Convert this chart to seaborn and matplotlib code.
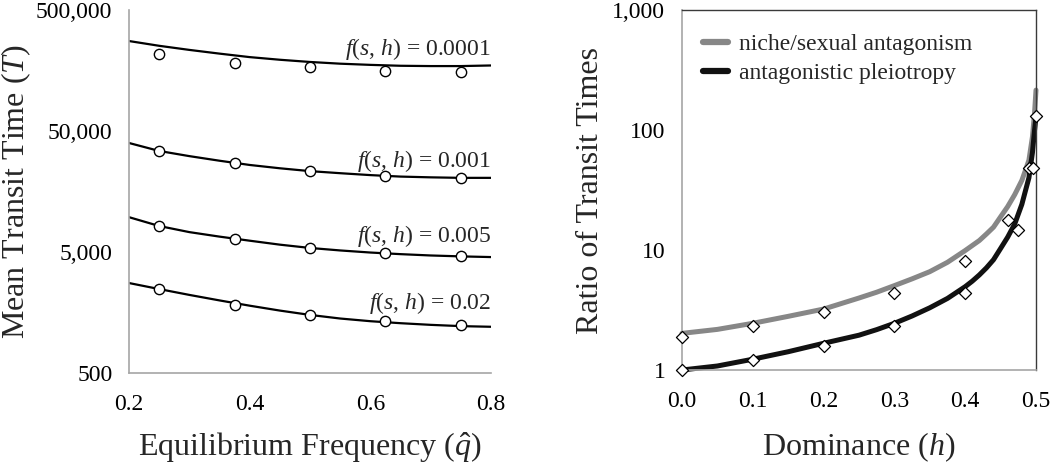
import numpy as np
import pandas as pd
import matplotlib
matplotlib.use("Agg")
import matplotlib.pyplot as plt
import matplotlib.ticker as mticker
import seaborn as sns

# ---------------- data ----------------
# Left panel: mean transit time vs equilibrium frequency
q_curve = [0.2, 0.25, 0.3, 0.35, 0.4, 0.45, 0.5, 0.55, 0.6, 0.65, 0.7, 0.75, 0.8]
T_curve_00001 = [277000, 253000, 234000, 218000, 204000, 194000, 186000, 180000, 176000, 173000, 172000, 172000, 174000]
T_curve_0001 = [39800, 34200, 31000, 28400, 26200, 24600, 23300, 22400, 21600, 21000, 20700, 20500, 20500]
T_curve_0005 = [9700, 8200, 7300, 6700, 6200, 5750, 5400, 5150, 4950, 4800, 4680, 4600, 4540]
T_curve_002 = [2770, 2470, 2210, 1990, 1800, 1640, 1510, 1410, 1340, 1290, 1250, 1220, 1205]

q_sim = [0.25, 0.375, 0.5, 0.625, 0.75]
T_sim_00001 = [216000, 182000, 169000, 157000, 154000]
T_sim_0001 = [34200, 27200, 23300, 21200, 20500]
T_sim_0005 = [8200, 6400, 5400, 4900, 4600]
T_sim_002 = [2470, 1820, 1510, 1350, 1250]

curve_labels = ["0.0001", "0.001", "0.005", "0.02"]

# Right panel: ratio of transit times vs dominance
h_curve = [0, 0.05, 0.1, 0.15, 0.2, 0.25, 0.275, 0.3, 0.325, 0.35, 0.375, 0.4, 0.41, 0.42,
           0.43, 0.44, 0.45, 0.46, 0.47, 0.48, 0.485, 0.49, 0.495, 0.498, 0.5]
ratio_niche = [2.02, 2.18, 2.45, 2.8, 3.22, 3.98, 4.45, 5.05, 5.75, 6.6, 7.9, 9.9, 10.9, 12.0,
               13.6, 15.5, 18.9, 23.0, 29.0, 38.0, 46.0, 56.0, 88.0, 140.0, 215.0]
ratio_ap = [1.0, 1.08, 1.23, 1.42, 1.67, 1.95, 2.17, 2.45, 2.82, 3.3, 3.95, 4.95, 5.5, 6.2,
            7.1, 8.3, 10.3, 12.8, 16.5, 24.0, 31.0, 40.0, 65.0, 100.0, 128.0]

h_sim_niche = [0, 0.1, 0.2, 0.3, 0.4, 0.46, 0.49]
r_sim_niche = [1.9, 2.33, 3.04, 4.4, 8.15, 17.8, 48.5]
h_sim_ap = [0, 0.1, 0.2, 0.3, 0.4, 0.475, 0.496, 0.5]
r_sim_ap = [1.0, 1.21, 1.58, 2.33, 4.36, 14.7, 48.5, 131]

series_names = ["niche/sexual antagonism", "antagonistic pleiotropy"]

# ---------------- style ----------------
sns.set_style("white")
plt.rcParams["font.family"] = ["Liberation Serif", "DejaVu Serif"]
plt.rcParams["mathtext.fontset"] = "custom"
plt.rcParams["mathtext.rm"] = "Liberation Serif"
plt.rcParams["mathtext.it"] = "Liberation Serif:italic"
plt.rcParams["mathtext.bf"] = "Liberation Serif:bold"

fig = plt.figure(figsize=(10.5, 4.66), dpi=100)
axL = fig.add_axes([129 / 1050, 1 - 373 / 466, (491 - 129) / 1050, (373 - 10) / 466])
axR = fig.add_axes([682 / 1050, 1 - 370 / 466, (1036 - 682) / 1050, (370 - 10) / 466])

TICK_FS = 17
LABEL_FS = 23
spine_gray = "#a6a6a6"

# ---- left panel ----
curves = [T_curve_00001, T_curve_0001, T_curve_0005, T_curve_002]
sims = [T_sim_00001, T_sim_0001, T_sim_0005, T_sim_002]
for cv, sv in zip(curves, sims):
    sns.lineplot(x=q_curve, y=cv, ax=axL, color="black", linewidth=1.6, zorder=2)
    sns.scatterplot(x=q_sim, y=sv, ax=axL, marker="o", s=55, facecolor="white",
                    edgecolor="black", linewidth=1.0, zorder=3)

axL.set_yscale("log")
axL.set_xlim(0.2, 0.8)
axL.set_ylim(500, 500000)
axL.set_yticks([500, 5000, 50000, 500000])
axL.yaxis.set_major_formatter(mticker.FuncFormatter(lambda v, p: f"{int(round(v)):,}"))
axL.yaxis.set_minor_locator(mticker.NullLocator())
axL.set_xticks([0.2, 0.4, 0.6, 0.8])
axL.xaxis.set_major_formatter(mticker.FormatStrFormatter("%.1f"))
for s in ["top", "right"]:
    axL.spines[s].set_visible(False)
for s in ["left", "bottom"]:
    axL.spines[s].set_color(spine_gray)
    axL.spines[s].set_linewidth(1.2)
axL.tick_params(axis="both", which="major", direction="out", length=5, width=1.0,
                color=spine_gray, labelsize=TICK_FS, labelcolor="black")
axL.tick_params(axis="y", pad=7)
axL.tick_params(axis="x", pad=10)
axL.set_xlabel(r"Equilibrium Frequency ($\hat{q}$)", fontsize=LABEL_FS)
axL.set_ylabel(r"Mean Transit Time ($T$)", fontsize=LABEL_FS)
axL.xaxis.set_label_coords(0.5, -0.158)
axL.yaxis.set_label_coords(-0.265, 0.5)

label_y = [0.876, 0.568, 0.362, 0.176]
for lab, ly in zip(curve_labels, label_y):
    axL.text(1.0, ly, rf"$f$($s$, $h$) = {lab}", transform=axL.transAxes,
             ha="right", va="baseline", fontsize=TICK_FS)

# ---- right panel ----
df_curves = pd.DataFrame({
    "h": h_curve * 2,
    "ratio": ratio_niche + ratio_ap,
    "model": [series_names[0]] * len(h_curve) + [series_names[1]] * len(h_curve),
})
sns.lineplot(data=df_curves, x="h", y="ratio", hue="model", ax=axR,
             palette={series_names[0]: "#878787", series_names[1]: "#111111"},
             linewidth=3.6, zorder=2, clip_on=False)
sns.scatterplot(x=h_sim_niche, y=r_sim_niche, ax=axR, marker="D", s=38,
                facecolor="white", edgecolor="black", linewidth=0.9, zorder=4, clip_on=False)
sns.scatterplot(x=h_sim_ap, y=r_sim_ap, ax=axR, marker="D", s=38,
                facecolor="white", edgecolor="black", linewidth=0.9, zorder=4, clip_on=False)

axR.set_yscale("log")
axR.set_xlim(0, 0.5)
axR.set_ylim(1, 1000)
axR.set_yticks([1, 10, 100, 1000])
axR.yaxis.set_major_formatter(mticker.FuncFormatter(lambda v, p: f"{int(round(v)):,}"))
axR.yaxis.set_minor_locator(mticker.NullLocator())
axR.set_xticks([0, 0.1, 0.2, 0.3, 0.4, 0.5])
axR.xaxis.set_major_formatter(mticker.FormatStrFormatter("%.1f"))
for s in ["left", "bottom"]:
    axR.spines[s].set_color(spine_gray)
    axR.spines[s].set_linewidth(1.2)
for s in ["top", "right"]:
    axR.spines[s].set_color("#3a3a3a")
    axR.spines[s].set_linewidth(1.0)
axR.tick_params(axis="both", which="major", direction="out", length=5, width=1.0,
                color=spine_gray, labelsize=TICK_FS, labelcolor="black")
axR.tick_params(axis="y", pad=7)
axR.tick_params(axis="x", pad=10)
axR.set_xlabel(r"Dominance ($h$)", fontsize=LABEL_FS)
axR.set_ylabel("Ratio of Transit Times", fontsize=LABEL_FS)
axR.xaxis.set_label_coords(0.5, -0.168)
axR.yaxis.set_label_coords(-0.2175, 0.5)

leg = axR.legend(loc="upper left", bbox_to_anchor=(0.04, 0.955), frameon=False,
                 fontsize=TICK_FS, handlelength=1.05, handletextpad=0.45,
                 labelspacing=0.32, borderpad=0.3, borderaxespad=0.0)
for line in leg.get_lines():
    line.set_linewidth(4.5)

fig.savefig("out.png", dpi=100)
